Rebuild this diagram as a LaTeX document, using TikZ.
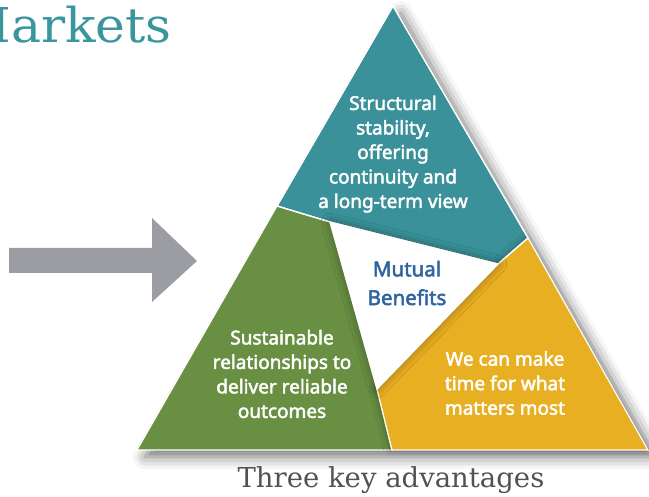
\documentclass[tikz,border=0pt]{standalone}
\usepackage{fontspec}
\setmainfont{Noto Sans}[AutoFakeBold=2.4]
\newfontfamily\slabfont{DejaVu Serif}
\usetikzlibrary{positioning,shadows.blur}
\definecolor{tealpart}{HTML}{3A9199}
\definecolor{greenpart}{HTML}{688F42}
\definecolor{yellowpart}{HTML}{E9AF22}
\definecolor{arrowgray}{HTML}{9B9DA3}
\definecolor{benefitblue}{HTML}{2F64A0}
\definecolor{captiongray}{HTML}{505257}
\definecolor{marketteal}{HTML}{3A969D}
\tikzset{
    %Define style for the three parts
    part/.style={
           draw=white,
           line width=1.2pt,
           line join=miter},
    %Define style for the texts in the parts
    part text/.style={
           align=center,
           text=white,
           font=\bfseries\fontsize{19}{24.5}\selectfont},
    % Define style for the middle text
    middle text/.style={
           align=center,
           text=benefitblue,
           font=\bfseries\fontsize{20.5}{28.7}\selectfont}
}
\begin{document}
\begin{tikzpicture}[x=1pt,y=-1pt]
\useasboundingbox (0,0) rectangle (649,497);
\clip (0,0) rectangle (649,497);
% corners and cuts of the triangle
\coordinate (top) at (393,6);
\coordinate (bl) at (137,450);
\coordinate (br) at (648,450);
\coordinate (pl) at (277,206);
\coordinate (pr) at (528,238);
\coordinate (pb) at (392,450);
\coordinate (ia) at (498,264);
\coordinate (ib) at (377,389);
\coordinate (ic) at (330,222);
% shadow of the whole triangle
\fill[white, blur shadow={shadow xshift=8pt, shadow yshift=-7pt,
      shadow blur radius=12pt, shadow opacity=55}] (top) -- (br) -- (bl) -- cycle;
% the three parts
\fill[part, fill=tealpart] (top) -- (pl) -- (ic) -- (ia) -- (pr) -- cycle;
\fill[part, fill=greenpart] (bl) -- (pl) -- (ic) -- (ib) -- (pb) -- cycle;
\fill[part, fill=yellowpart, blur shadow={shadow xshift=-2pt, shadow yshift=0pt,
      shadow blur radius=6pt, shadow opacity=30}] (br) -- (pr) -- (ia) -- (ib) -- (pb) -- cycle;
\draw[part] (top) -- (pl) -- (ic) -- (ia) -- (pr) -- cycle;
\fill[part, fill=white, blur shadow={shadow xshift=0pt, shadow yshift=0pt,
      shadow blur radius=9pt, shadow opacity=40}] (ic) -- (ia) -- (ib) -- cycle;
% texts
\node[part text] (stability) at (393,154) {Structural\\stability,\\offering\\continuity and\\a long-term view};
\node[part text] (relations) at (282,374) {Sustainable\\relationships to\\deliver reliable\\outcomes};
\node[part text] (time) at (505,383) {We can make\\time for what\\matters most};
\node[middle text] (mutual) at (407,283) {Mutual\\Benefits};
% arrow on the left
\fill[arrowgray] (9,248) -- (152,248) -- (152,218) -- (197,261)
      -- (152,302) -- (152,273) -- (9,273) -- cycle;
% headings
\node[anchor=base east, inner sep=0pt, text=marketteal,
      font=\slabfont\fontsize{48}{50}\selectfont] (markets) at (172,43) {\scalebox{1.05}[1]{Markets}};
\node[anchor=base, inner sep=0pt, text=captiongray,
      font=\slabfont\fontsize{27.5}{29}\selectfont] (advantages) at (391,488) {Three key advantages};
\end{tikzpicture}
\end{document}
